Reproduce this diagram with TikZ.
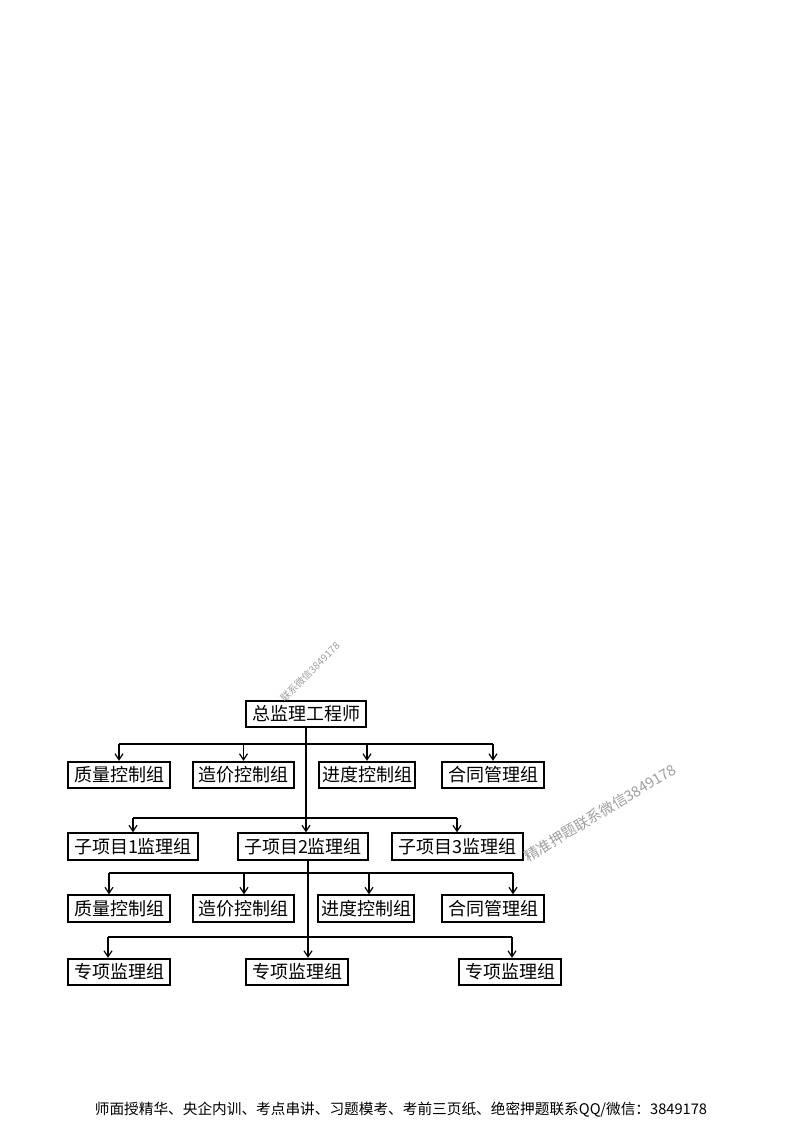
\documentclass[tikz,border=0pt]{standalone}
\usepackage{fontspec}
\newfontfamily\cjk{Noto Sans CJK SC}
\usetikzlibrary{arrows.meta}
\begin{document}
\begin{tikzpicture}[x=0.75pt,y=-0.75pt,
  box/.style={draw=black,line width=1.3pt,rectangle,inner sep=0pt,minimum height=20pt,
    font=\cjk\fontsize{13.5pt}{15pt}\selectfont},
  link/.style={line width=0.9pt},
  arr/.style={line width=0.9pt,-{Straight Barb[length=4.5pt,width=6pt,line width=0.9pt]}},
  wm/.style={text=black!38,font=\cjk\fontsize{#1}{#1}\selectfont,inner sep=0pt}]
\useasboundingbox (0,0) rectangle (800,1132);
% nodes
\node[box,minimum width=90pt] (top) at (306,714) {总监理工程师};
\node[box,minimum width=76.5pt] (q1) at (119,775) {质量控制组};
\node[box,minimum width=75.75pt] (z1) at (243.5,775) {造价控制组};
\node[box,minimum width=72pt] (j1) at (367,775) {进度控制组};
\node[box,minimum width=76.5pt] (h1) at (493,775) {合同管理组};
\node[box,minimum width=97.5pt] (s1) at (133,846.5) {子项目1监理组};
\node[box,minimum width=97.5pt] (s2) at (303,846.5) {子项目2监理组};
\node[box,minimum width=98.25pt] (s3) at (457.5,846.5) {子项目3监理组};
\node[box,minimum width=76.5pt] (q2) at (119,908.5) {质量控制组};
\node[box,minimum width=75.75pt] (z2) at (243.5,908.5) {造价控制组};
\node[box,minimum width=72pt] (j2) at (366,908.5) {进度控制组};
\node[box,minimum width=76.5pt] (h2) at (493,908.5) {合同管理组};
\node[box,minimum width=76.5pt] (p1) at (119,972) {专项监理组};
\node[box,minimum width=76.5pt] (p2) at (297,972) {专项监理组};
\node[box,minimum width=76.5pt] (p3) at (510,972) {专项监理组};
% bus coordinates
\coordinate (b1l) at (119,744);
\coordinate (b1r) at (493,744);
\coordinate (b2l) at (133,818);
\coordinate (b2r) at (457,818);
\coordinate (t2) at (306,818);
\coordinate (b3l) at (109,873);
\coordinate (b3z) at (244,873);
\coordinate (b3j) at (369,873);
\coordinate (b3r) at (513,873);
\coordinate (b4l) at (108,937);
\coordinate (b4m) at (308,937);
\coordinate (b4r) at (512,937);
% level 1
\draw[link] (b1l) -- (b1r);
\draw[arr] (b1l) -- (q1.north);
\draw[arr] (z1.north |- b1l) -- (z1.north);
\draw[arr] (j1.north |- b1l) -- (j1.north);
\draw[arr] (b1r) -- (h1.north);
% main trunk
\draw[arr] (top.south -| t2) -- (t2 |- s2.north);
\draw[link] (b2l) -- (b2r);
\draw[arr] (b2l) -- (s1.north);
\draw[arr] (b2r) -- (b2r |- s3.north);
% level 3
\draw[link] (b3l) -- (b3r);
\draw[arr] (b3l) -- (b3l |- q2.north);
\draw[arr] (b3z) -- (b3z |- z2.north);
\draw[arr] (b3j) -- (b3j |- j2.north);
\draw[arr] (b3r) -- (b3r |- h2.north);
% level 4
\draw[link] (b4l) -- (b4r);
\draw[arr] (b4m |- s2.south) -- (b4m |- p2.north);
\draw[arr] (b4l) -- (b4l |- p1.north);
\draw[arr] (b4r) -- (b4r |- p3.north);
% watermarks
\node[wm=7.5pt,rotate=45] (w1) at (310,672) {联系微信3849178};
\node[wm=11pt,rotate=31] (w2) at (600,813) {精准押题联系微信3849178};
% footer
\node[inner sep=0pt,font=\cjk\fontsize{11pt}{13pt}\selectfont] (foot) at (401,1110) {师面授精华、央企内训、考点串讲、习题模考、考前三页纸、绝密押题联系QQ/微信：3849178};
\end{tikzpicture}
\end{document}
